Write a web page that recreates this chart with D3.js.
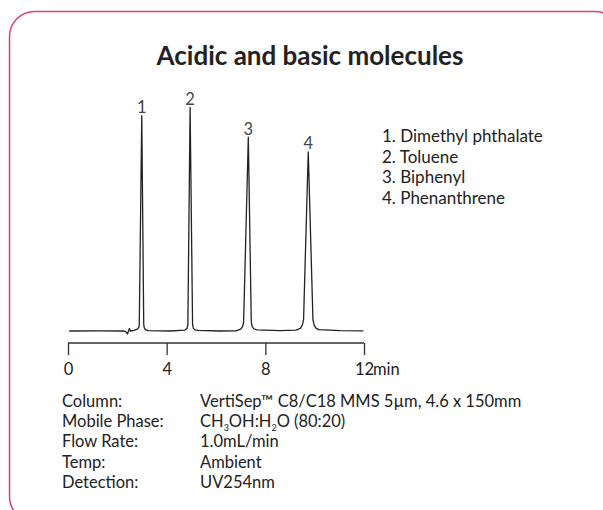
<!DOCTYPE html>
<html>
<head>
<meta charset="utf-8">
<script src="https://cdn.jsdelivr.net/npm/d3@7"></script>
<style>
  body { margin: 0; background: #fff; }
  svg text { font-family: "Lato", "Open Sans", sans-serif; fill: #222; }
</style>
</head>
<body>
<div id="chart"></div>
<script>
// Chart data
//=====================================================================
var traceTime = [0.05, 1.30, 2.23, 2.33, 2.41, 2.49, 2.53, 2.68, 2.81, 2.87, 2.89, 2.99, 3.07, 3.09, 3.14, 3.24,
    4.14, 4.74, 4.83, 4.86, 4.95, 5.05, 5.08, 5.15, 5.27,
    6.16, 6.81, 7.00, 7.08, 7.12, 7.31, 7.43, 7.47, 7.53, 7.66,
    8.59, 9.24, 9.42, 9.50, 9.55, 9.74, 9.93, 9.98, 10.05, 10.16, 11.03, 11.97];
var traceSignal = [0, 0.1, 0, -0.2, -1.3, 1.1, 0, 0.3, 0.8, 1.6, 3.0, 96.1, 3.0, 1.5, 0.6, 0.2,
    0, 0.4, 1.2, 3.0, 99.8, 3.0, 1.3, 0.5, 0.3,
    0, 0.1, 0.8, 2.0, 4.0, 86.5, 4.0, 2.0, 1.0, 0.5,
    0.2, 0.4, 1.2, 2.6, 5.0, 80.0, 5.0, 2.6, 1.3, 0.6, 0.2, 0.1];

var peakNumbers = ["1", "2", "3", "4"];
var peakTimes = [2.99, 4.95, 7.31, 9.74];
var peakHeights = [96.1, 99.8, 86.5, 80.0];
var compounds = ["Dimethyl phthalate", "Toluene", "Biphenyl", "Phenanthrene"];

var xTicks = [0, 4, 8, 12];
var xUnit = "min";

var conditionLabels = ["Column:", "Mobile Phase:", "Flow Rate:", "Temp:", "Detection:"];
// "_n" marks a subscript digit
var conditionValues = ["VertiSep\u2122 C8/C18 MMS 5\u00b5m, 4.6 x 150mm", "CH_3OH:H_2O (80:20)",
    "1.0mL/min", "Ambient", "UV254nm"];

var title = "Acidic and basic molecules";

// Set up the svg
//=====================================================================
var svgWidth = 603;
var svgHeight = 510;

var svg = d3.select("#chart")
    .append("svg")
    .attr("width", svgWidth)
    .attr("height", svgHeight);

// frame, runs off the right and bottom edges
svg.append("rect")
    .attr("x", 9.5)
    .attr("y", 11.5)
    .attr("width", 610)
    .attr("height", 510)
    .attr("rx", 25)
    .attr("fill", "none")
    .attr("stroke", "#d8426f")
    .attr("stroke-width", 1.5);

svg.append("text")
    .attr("x", 310)
    .attr("y", 65)
    .attr("text-anchor", "middle")
    .style("font-size", "26px")
    .style("font-weight", "bold")
    .text(title);

// Scales
//=====================================================================
var xScale = d3.scaleLinear()
    .domain([0, 12])
    .range([68, 364]);

var yScale = d3.scaleLinear()
    .domain([0, 100])
    .range([331, 107]);

// Axis
var bottomAxis = d3.axisBottom(xScale)
    .tickValues(xTicks)
    .tickSize(12)
    .tickPadding(8)
    .tickFormat(d3.format("d"));

var axisGroup = svg.append("g")
    .attr("transform", "translate(0, 343)")
    .call(bottomAxis);

axisGroup.select(".domain")
    .attr("d", "M" + xScale(0) + ",0H" + xScale(12))
    .attr("stroke", "#333")
    .attr("stroke-width", 1.3);
axisGroup.selectAll(".tick line")
    .attr("stroke", "#333")
    .attr("stroke-width", 1.3);
axisGroup.selectAll(".tick text")
    .style("font-size", "16.5px")
    .style("font-family", "Lato, sans-serif")
    .attr("fill", "#222");

svg.append("text")
    .attr("x", xScale(12) + 9)
    .attr("y", 375)
    .style("font-size", "16.5px")
    .text(xUnit);

// Chromatogram trace
//=====================================================================
var trace = traceTime.map(function (t, i) { return { t: t, s: traceSignal[i] }; });

var line = d3.line()
    .x(d => xScale(d.t))
    .y(d => yScale(d.s));

svg.append("path")
    .datum(trace)
    .attr("d", line)
    .attr("fill", "none")
    .attr("stroke", "#222")
    .attr("stroke-width", 1.3)
    .attr("stroke-linejoin", "round");

// Peak numbers
svg.append("g")
    .selectAll("text")
    .data(peakNumbers)
    .enter()
    .append("text")
    .attr("x", (d, i) => xScale(peakTimes[i]))
    .attr("y", (d, i) => yScale(peakHeights[i]) - 2.5)
    .attr("text-anchor", "middle")
    .style("font-size", "16.5px")
    .style("fill", "#444")
    .text(d => d);

// Legend
svg.append("g")
    .selectAll("text")
    .data(compounds)
    .enter()
    .append("text")
    .attr("x", 382)
    .attr("y", (d, i) => 142 + i * 20.6)
    .style("font-size", "17px")
    .text((d, i) => peakNumbers[i] + ". " + d);

// Conditions block
//=====================================================================
var condGroup = svg.append("g");

conditionLabels.forEach(function (label, i) {
    var y = 406.5 + i * 20.4;
    condGroup.append("text")
        .attr("x", 62)
        .attr("y", y)
        .style("font-size", "16.5px")
        .text(label);

    var valueText = condGroup.append("text")
        .attr("x", 200)
        .attr("y", y)
        .style("font-size", "16.5px");

    // split out subscripts, shift the next run back up
    var parts = conditionValues[i].split(/(_\d)/);
    var lowered = false;
    parts.forEach(function (p) {
        if (p === "") return;
        if (p[0] === "_") {
            valueText.append("tspan")
                .attr("dy", 4)
                .style("font-size", "9px")
                .text(p.slice(1));
            lowered = true;
        } else {
            valueText.append("tspan")
                .attr("dy", lowered ? -4 : 0)
                .text(p);
            lowered = false;
        }
    });
});
</script>
</body>
</html>
